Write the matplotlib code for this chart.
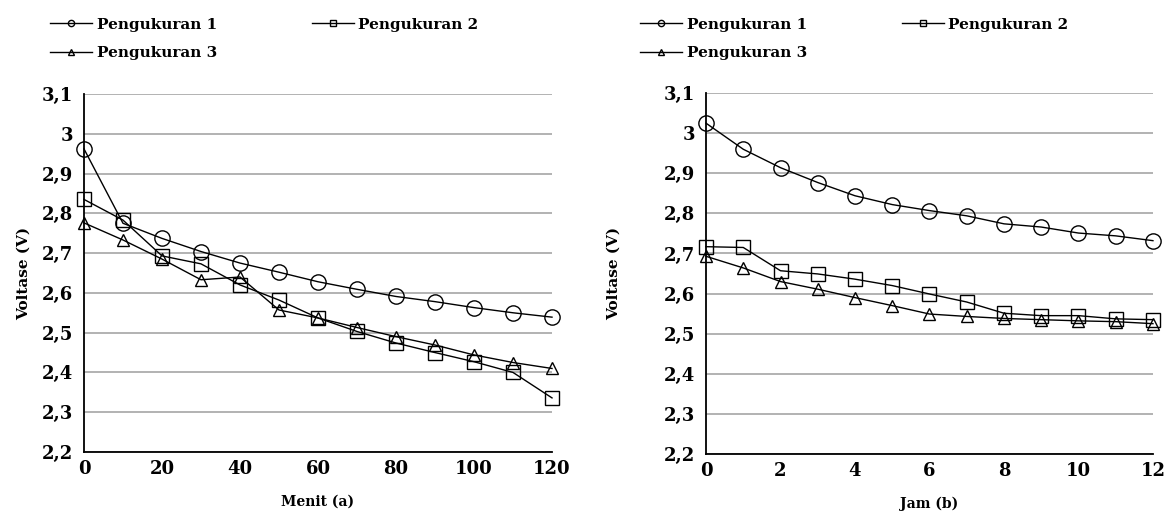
import numpy as np
import matplotlib.pyplot as plt
from matplotlib.lines import Line2D
from matplotlib.ticker import FuncFormatter, MultipleLocator

# menit (a)
menit = [0, 10, 20, 30, 40, 50, 60, 70, 80, 90, 100, 110, 120]
menit_p1 = [2.962, 2.775, 2.737, 2.704, 2.675, 2.652, 2.628, 2.609, 2.591, 2.578, 2.563, 2.550, 2.539]
menit_p2 = [2.835, 2.783, 2.693, 2.673, 2.620, 2.582, 2.537, 2.503, 2.474, 2.450, 2.427, 2.400, 2.336]
menit_p3 = [2.776, 2.733, 2.685, 2.633, 2.640, 2.557, 2.537, 2.513, 2.490, 2.469, 2.444, 2.425, 2.410]

# jam (b)
jam = [0, 1, 2, 3, 4, 5, 6, 7, 8, 9, 10, 11, 12]
jam_p1 = [3.025, 2.960, 2.914, 2.877, 2.844, 2.822, 2.807, 2.794, 2.774, 2.766, 2.751, 2.744, 2.732]
jam_p2 = [2.717, 2.715, 2.657, 2.649, 2.636, 2.620, 2.599, 2.579, 2.551, 2.545, 2.545, 2.537, 2.535]
jam_p3 = [2.693, 2.664, 2.630, 2.611, 2.590, 2.570, 2.549, 2.543, 2.538, 2.535, 2.532, 2.530, 2.525]

labels = ['Pengukuran 1', 'Pengukuran 2', 'Pengukuran 3']
markers = ['o', 's', '^']
msizes = [11, 10.5, 9]

plt.rcParams['font.family'] = 'DejaVu Serif'

fig = plt.figure(figsize=(11.73, 5.17), dpi=100)
ax1 = fig.add_axes([0.0716, 0.1257, 0.399, 0.6925])
ax2 = fig.add_axes([0.6019, 0.1219, 0.381, 0.698])


def koma(v, pos):
    s = ('%.1f' % v)
    if s.endswith('.0'):
        s = s[:-2]
    return s.replace('.', ',')


def gambar(ax, x, ys, xlabel, xmax, xstep, ypad, legx):
    for y, m, ms in zip(ys, markers, msizes):
        ax.plot(x, y, color='black', lw=1.0, marker=m, ms=ms,
                mfc='none', mec='black', mew=1.0, clip_on=False, zorder=3)
    ax.set_xlim(0, xmax)
    ax.set_ylim(2.2, 3.1)
    ax.xaxis.set_major_locator(MultipleLocator(xstep))
    ax.yaxis.set_major_locator(MultipleLocator(0.1))
    ax.yaxis.set_major_formatter(FuncFormatter(koma))
    ax.grid(axis='y', color='#a6a6a6', lw=1.2)
    ax.set_axisbelow(True)
    for s in ['top', 'right']:
        ax.spines[s].set_visible(False)
    for s in ['left', 'bottom']:
        ax.spines[s].set_linewidth(1.3)
    ax.tick_params(length=0, labelsize=13, pad=8)
    ax.tick_params(axis='x', pad=6)
    for t in ax.get_xticklabels() + ax.get_yticklabels():
        t.set_fontweight('bold')
    ax.set_xlabel(xlabel, fontsize=10, fontweight='bold', labelpad=12)
    ax.set_ylabel('Voltase (V)', fontsize=11, fontweight='bold', labelpad=ypad)

    handles = [Line2D([], [], color='black', lw=1.0, marker=m, ms=4.5,
                      mfc='none', mec='black', mew=1.0) for m in markers]
    # urutan baris: P1, P2 di atas; P3 di bawah
    order = [0, 2, 1]
    fig.legend([handles[i] for i in order], [labels[i] for i in order],
               loc='upper left', bbox_to_anchor=(legx, 0.966),
               bbox_transform=fig.transFigure, ncol=2, frameon=False,
               borderpad=0, borderaxespad=0, handlelength=2.75,
               handletextpad=0.3, columnspacing=6.2, labelspacing=0.96,
               prop={'weight': 'bold', 'size': 11})


gambar(ax1, menit, [menit_p1, menit_p2, menit_p3], 'Menit (a)', 120, 20, 8, 0.0426)
gambar(ax2, jam, [jam_p1, jam_p2, jam_p3], 'Jam (b)', 12, 2, 31, 0.5456)

fig.savefig('out.png', dpi=100)
